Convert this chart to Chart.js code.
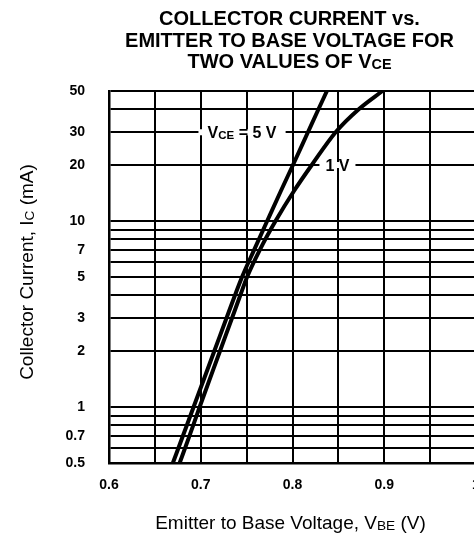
<!DOCTYPE html>
<html>
<head>
<meta charset="utf-8">
<script src="https://cdn.jsdelivr.net/npm/chart.js@4.4.1/dist/chart.umd.min.js"></script>
<style>
  html, body { margin: 0; padding: 0; background: #fff; overflow: hidden; }
  /* the sheet's right border falls just outside the picture */
  #wrap { width: 474px; height: 536px; overflow: hidden; }
</style>
</head>
<body>
<div id="wrap"><canvas id="icVbe" width="477" height="536"></canvas></div>
<script>
// Collector current (mA)
const currentMA = [0.5, 0.7, 1, 2, 3, 4, 5, 7, 10, 14.5, 20, 30, 40, 50];
// Emitter to base voltage (V) for each VCE curve
const vbe5V = [0.6696, 0.6806, 0.6922, 0.7148, 0.728, 0.7374, 0.745, 0.7582, 0.7724, 0.7873, 0.8005, 0.8168, 0.8284, 0.8375];
const vbe1V = [0.677, 0.6877, 0.6988, 0.721, 0.734, 0.7432, 0.7505, 0.7644, 0.7815, 0.8016, 0.821, 0.847, 0.8725, 0.898];

// axis grid and tick labels
const xGrid = [0.6, 0.65, 0.7, 0.75, 0.8, 0.85, 0.9, 0.95, 1.0];
const xLabels = { 0.6: '0.6', 0.7: '0.7', 0.8: '0.8', 0.9: '0.9', 1: '1' };
const yGrid = [0.5, 0.6, 0.7, 0.8, 0.9, 1, 2, 3, 4, 5, 6, 7, 8, 9, 10, 20, 30, 40, 50];
const yLabels = [0.5, 0.7, 1, 2, 3, 5, 7, 10, 20, 30, 50];

const FONT = "'Liberation Sans', Arial, Helvetica, sans-serif";

// draw a line of text made of runs; subscript runs are smaller
function drawRuns(ctx, runs, x, y, size, weight) {
  const widthOf = (r) => {
    ctx.font = weight + ' ' + (r[1] ? size * 0.72 : size) + 'px ' + FONT;
    return ctx.measureText(r[0]).width;
  };
  const total = runs.reduce((s, r) => s + widthOf(r), 0);
  let cx = x - total / 2;
  ctx.textAlign = 'left';
  ctx.textBaseline = 'alphabetic';
  runs.forEach((r) => {
    const w = widthOf(r);
    ctx.fillText(r[0], cx, y + (r[1] ? 1 : 0));
    cx += w;
  });
  return total;
}

// titles, axis titles and the curve labels
const textPlugin = {
  id: 'sheetText',
  beforeDatasetsDraw(chart) {
    const { ctx, scales } = chart;
    ctx.save();
    const labels = [
      { v: 0.745, i: 30, runs: [['V', false], ['CE', true], [' = 5 V', false]] },
      { v: 0.849, i: 20, runs: [['1 V', false]] },
    ];
    labels.forEach((l) => {
      const px = scales.x.getPixelForValue(l.v);
      const py = scales.y.getPixelForValue(l.i);
      ctx.font = 'bold 16px ' + FONT;
      const w = ctx.measureText(l.runs.map((r) => r[0]).join('')).width;
      // break the horizontal grid line behind the label
      ctx.fillStyle = '#fff';
      ctx.fillRect(px - w / 2 - 6, py - 3, w + 12, 6);
      ctx.fillStyle = '#000';
      drawRuns(ctx, l.runs, px, py + 6, 16, 'bold');
    });
    ctx.restore();
  },
  afterDraw(chart) {
    const { ctx, chartArea } = chart;
    const mid = (chartArea.left + chartArea.right) / 2;
    ctx.save();
    ctx.fillStyle = '#000';
    const titleLines = [
      [['COLLECTOR CURRENT vs.', false]],
      [['EMITTER TO BASE VOLTAGE FOR', false]],
      [['TWO VALUES OF V', false], ['CE', true]],
    ];
    titleLines.forEach((ln, k) => drawRuns(ctx, ln, mid - 3, 25 + k * 21.7, 20, 'bold'));

    // x axis title
    drawRuns(ctx, [['Emitter to Base Voltage, V', false], ['BE', true], [' (V)', false]],
      mid - 2, 529, 19, 'normal');

    // y axis title, rotated
    ctx.translate(33, (chartArea.top + chartArea.bottom) / 2 - 5);
    ctx.rotate(-Math.PI / 2);
    drawRuns(ctx, [['Collector Current, I', false], ['C', true], [' (mA)', false]], 0, 0, 19, 'normal');
    ctx.restore();
  },
};

const ctx = document.getElementById('icVbe').getContext('2d');
new Chart(ctx, {
  type: 'line',
  data: {
    datasets: [
      {
        label: 'VCE = 5 V',
        data: currentMA.map((c, k) => ({ x: vbe5V[k], y: c })),
        borderColor: '#000',
        borderWidth: 4,
        pointRadius: 0,
        cubicInterpolationMode: 'monotone',
      },
      {
        label: 'VCE = 1 V',
        data: currentMA.map((c, k) => ({ x: vbe1V[k], y: c })),
        borderColor: '#000',
        borderWidth: 4,
        pointRadius: 0,
        cubicInterpolationMode: 'monotone',
      },
    ],
  },
  options: {
    responsive: false,
    animation: false,
    layout: { padding: { top: 91, right: 1, bottom: 0, left: 0 } },
    plugins: {
      legend: { display: false },
      title: { display: false },
      tooltip: { enabled: false },
    },
    scales: {
      x: {
        type: 'linear',
        min: 0.6,
        max: 1.0,
        afterBuildTicks: (s) => { s.ticks = xGrid.map((v) => ({ value: v })); },
        afterFit: (s) => { s.height = 73; s.paddingLeft = 0; s.paddingRight = 0; },
        grid: { color: '#000', lineWidth: 2, drawTicks: false },
        border: { color: '#000', width: 2.5 },
        ticks: {
          autoSkip: false,
          maxRotation: 0,
          padding: 14,
          color: '#000',
          font: { family: FONT, size: 14, weight: 'bold' },
          callback: (v) => xLabels[Math.round(v * 100) / 100] || '',
        },
      },
      y: {
        type: 'logarithmic',
        min: 0.5,
        max: 50,
        afterBuildTicks: (s) => { s.ticks = yGrid.map((v) => ({ value: v })); },
        afterFit: (s) => { s.width = 109; s.paddingTop = 0; s.paddingBottom = 0; },
        grid: { color: '#000', lineWidth: 2, drawTicks: false },
        border: { color: '#000', width: 2.5 },
        ticks: {
          autoSkip: false,
          padding: 24,
          color: '#000',
          font: { family: FONT, size: 14, weight: 'bold' },
          callback: (v) => (yLabels.includes(v) ? String(v) : ''),
        },
      },
    },
  },
  plugins: [textPlugin],
});
</script>
</body>
</html>
